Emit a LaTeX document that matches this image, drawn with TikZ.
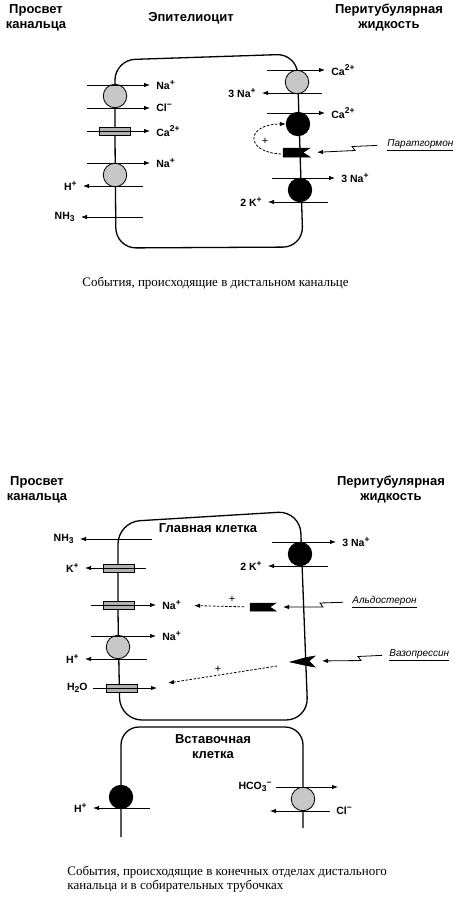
\documentclass[tikz,border=0pt]{standalone}
\usepackage{fontspec}
\setmainfont{Liberation Serif}
\newfontfamily\arialfont{Liberation Sans}
\newcommand\headfont{\arialfont\bfseries\fontsize{13}{15}\selectfont}
\newcommand\ionfont{\arialfont\bfseries\fontsize{10.5}{12}\selectfont}
\newcommand\hormfont{\arialfont\itshape\fontsize{10}{12}\selectfont}
\newcommand\plusfont{\arialfont\fontsize{11}{12}\selectfont}
\newcommand\capfont{\fontsize{13}{13.5}\selectfont}
\newcommand\up[1]{\raisebox{0.42em}{\fontsize{8.5}{9}\selectfont #1}}
\newcommand\dn[1]{\raisebox{-0.22em}{\fontsize{8.5}{9}\selectfont #1}}
\usetikzlibrary{arrows.meta}

\begin{document}
\begin{tikzpicture}[x=1pt,y=-1pt,line width=0.8pt,
  membrane/.style={line width=1.3pt},
  flux/.style={-{Latex[length=6pt,width=4.5pt]},shorten >=6pt},
  effect/.style={-{Latex[length=6pt,width=4.5pt]},dash pattern=on 2.5pt off 1.6pt},
  hormone/.style={-{Latex[length=6pt,width=4.5pt]},shorten <=10pt,shorten >=5pt},
  ion/.style={font=\ionfont,inner sep=0pt},
  head/.style={font=\headfont,align=center,inner sep=0pt},
  hlabel/.style={font=\hormfont,inner sep=0pt},
  caption/.style={font=\capfont,align=left,inner sep=0pt},
  pumpgray/.style={circle,draw,fill=black!22,minimum size=23.5pt,inner sep=0pt},
  pumpblack/.style={circle,draw,fill=black,minimum size=23.5pt,inner sep=0pt},
  channel/.style={rectangle,draw,fill=black!30,minimum width=31pt,minimum height=8pt,inner sep=0pt},
  receptor/.style={fill=black,draw=black,line width=0.5pt}]
\useasboundingbox (0,0) rectangle (459,897);
% distal tubule
\node[head] (lumen1) at (36,18) {Просвет\\канальца};
\node[head] (cell1) at (191,18) {Эпителиоцит};
\node[head] (blood1) at (389,18) {Перитубулярная\\жидкость};
\draw[membrane,rounded corners=20] (115,140) -- (115,60) -- (297,54) -- (303,247) -- (116,248) -- cycle;
\node[pumpgray] (lp1) at (115,96) {};
\node[channel] (lc1) at (115,131) {};
\node[pumpgray] (lp2) at (115,175) {};
\node[pumpgray] (rp1) at (297,82) {};
\node[pumpblack] (rp2) at (298,124) {};
\node[pumpblack] (rp3) at (300,190) {};
\coordinate (a1) at (87,85);
\coordinate (a2) at (87,108);
\coordinate (a3) at (87,131);
\coordinate (a4) at (87,163);
\coordinate (a5) at (143,186);
\coordinate (a6) at (143,217);
\node[ion,anchor=west] (na1) at (156,85) {Na\up{+}};
\node[ion,anchor=west] (cl1) at (156,108) {Cl\up{−}};
\node[ion,anchor=west] (ca1) at (156,131) {Ca\up{2+}};
\node[ion,anchor=west] (na2) at (156,163) {Na\up{+}};
\node[ion,anchor=east] (h1) at (77,186) {H\up{+}};
\node[ion,anchor=east] (nh1) at (75,217) {NH\dn{3}};
\draw[flux] (a1) -- (na1);
\draw[flux] (a2) -- (cl1);
\draw[flux] (a3) -- (ca1);
\draw[flux] (a4) -- (na2);
\draw[flux] (a5) -- (h1);
\draw[flux] (a6) -- (nh1);
\coordinate (b1) at (267,70);
\coordinate (b2) at (322,93);
\coordinate (b3) at (267,113);
\coordinate (b4) at (272,178);
\coordinate (b5) at (328,202);
\node[ion,anchor=west] (ca2) at (331,70) {Ca\up{2+}};
\node[ion,anchor=east] (na3) at (256,93) {3 Na\up{+}};
\node[ion,anchor=west] (ca3) at (331,113) {Ca\up{2+}};
\node[ion,anchor=west] (na4) at (341,178) {3 Na\up{+}};
\node[ion,anchor=east] (k1) at (262,202) {2 K\up{+}};
\draw[flux] (b1) -- (ca2);
\draw[flux] (b2) -- (na3);
\draw[flux] (b3) -- (ca3);
\draw[flux] (b4) -- (na4);
\draw[flux] (b5) -- (k1);
% parathormone
\draw[receptor] (283,148) -- (310,148) -- (303,152.5) -- (310,157) -- (283,157) -- cycle;
\coordinate (pthR) at (312,152.5);
\coordinate (pthL) at (281,154);
\node[hlabel,anchor=west] (pth) at (387,145) {\underline{Паратгормон}};
\draw[hormone] (pth.west) -- ++(-35,1.5) -- ++(3,4) -- (pthR);
\draw[effect] (pthL) .. controls (244,152) and (246,124) .. (rp2.west);
\node[font=\plusfont] (plus1) at (265,141) {+};
\node[caption,anchor=west] (cap1) at (82,283) {События, происходящие в дистальном канальце};
% collecting duct
\node[head] (lumen2) at (37,490) {Просвет\\канальца};
\node[head] (blood2) at (391,490) {Перитубулярная\\жидкость};
\draw[membrane,rounded corners=22] (118,620) -- (118,522) -- (300,511) -- (308,720) -- (120,720) -- cycle;
\node[head] (main) at (208,528) {Главная клетка};
\node[channel] (lc2) at (119,568) {};
\node[channel] (lc3) at (119,605) {};
\node[pumpgray] (lp3) at (118,647) {};
\node[channel] (lc4) at (122,688) {};
\node[pumpblack] (rp4) at (300,554) {};
\coordinate (c1) at (152,539);
\coordinate (c2) at (146,568);
\coordinate (c3) at (91,605);
\coordinate (c4) at (91,636);
\coordinate (c5) at (147,659);
\coordinate (c6) at (157,688);
\node[ion,anchor=east] (nh2) at (74,539) {NH\dn{3}};
\node[ion,anchor=east] (k2) at (79,568) {K\up{+}};
\node[ion,anchor=west] (na5) at (162,605) {Na\up{+}};
\node[ion,anchor=west] (na6) at (162,636) {Na\up{+}};
\node[ion,anchor=east] (h2) at (79,659) {H\up{+}};
\node[ion,anchor=east] (w1) at (88,688) {H\dn{2}O};
\draw[flux] (c1) -- (nh2);
\draw[flux] (c2) -- (k2);
\draw[flux] (c3) -- (na5);
\draw[flux] (c4) -- (na6);
\draw[flux] (c5) -- (h2);
\draw[flux,shorten <=5pt,shorten >=0pt] (w1) -- (c6);
\coordinate (d1) at (272,542);
\coordinate (d2) at (328,566);
\node[ion,anchor=west] (na7) at (342,542) {3 Na\up{+}};
\node[ion,anchor=east] (k3) at (262,566) {2 K\up{+}};
\draw[flux] (d1) -- (na7);
\draw[flux] (d2) -- (k3);
% aldosterone
\draw[receptor] (250,603) -- (276,603) -- (270,607) -- (276,611) -- (250,611) -- cycle;
\coordinate (aldL) at (250,607);
\coordinate (aldR) at (278,607);
\node[hlabel,anchor=west] (aldo) at (352,602) {\underline{Альдостерон}};
\draw[hormone,shorten <=9pt] (aldo.west) -- ++(-32,1) -- ++(3,4) -- (aldR);
\draw[effect,shorten <=6pt,shorten >=13pt] (aldL) -- (na5);
\node[font=\plusfont] (plus2) at (232,599) {+};
% vasopressin
\draw[receptor] (290,662) -- (306,657.5) -- (315,656) -- (309,661) -- (315,667) -- (306,665.5) -- cycle;
\coordinate (vpR) at (317,661);
\coordinate (vpL) at (277,666);
\coordinate (vpTip) at (168,683);
\node[hlabel,anchor=west] (vaso) at (389,655) {\underline{Вазопрессин}};
\draw[hormone,shorten <=7pt] (vaso.west) -- ++(-31,1.5) -- ++(3,4) -- (vpR);
\draw[effect] (vpL) -- (vpTip);
\node[font=\plusfont] (plus3) at (218,669) {+};
% intercalated cell
\draw[membrane,rounded corners=18] (121,837) -- (121,727) -- (303,727) -- (303,828);
\node[head] (icell) at (213,747) {Вставочная\\клетка};
\node[pumpblack] (lp4) at (121,797) {};
\node[pumpgray] (rp5) at (303,799) {};
\coordinate (e1) at (150,808);
\coordinate (e2) at (338,787);
\coordinate (e3) at (270,811);
\node[ion,anchor=east] (h3) at (87,808) {H\up{+}};
\node[ion,anchor=east] (hco) at (272,787) {HCO\dn{3}\up{−}};
\node[ion,anchor=west] (cl2) at (336,811) {Cl\up{−}};
\draw[flux] (e1) -- (h3);
\draw[flux,shorten <=4pt,shorten >=0pt] (hco) -- (e2);
\draw[flux,shorten <=6pt,shorten >=0pt] (cl2) -- (e3);
\node[caption,anchor=west] (cap2) at (67,879) {События, происходящие в конечных отделах дистального\\канальца и в собирательных трубочках};
\end{tikzpicture}
\end{document}
